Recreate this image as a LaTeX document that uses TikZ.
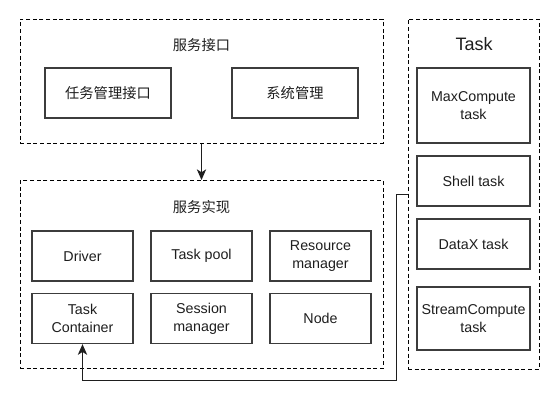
\documentclass[tikz,border=0pt]{standalone}
\usepackage{fontspec}
\setmainfont{Liberation Sans}
\newfontfamily\cjk{Noto Sans CJK SC}
\usetikzlibrary{arrows.meta}
\definecolor{ArchInk}{RGB}{30,30,30}
\definecolor{ArchBox}{RGB}{60,60,60}
\tikzset{
  arch/group/.style={
    draw=black,
    line width=0.75pt,
    dash pattern=on 3pt off 2pt,
    inner sep=0pt
  },
  arch/box/.style={
    draw=ArchBox,
    line width=1pt,
    fill=white,
    align=center,
    text=ArchInk,
    inner sep=0pt,
    minimum width=75.75pt,
    minimum height=37.5pt,
    font=\fontsize{10.7}{13.4}\selectfont
  },
  arch/title/.style={text=ArchInk, font=\cjk\fontsize{10.7}{13.4}\selectfont},
  arch/bigtitle/.style={text=ArchInk, font=\fontsize{13.5}{16}\selectfont},
  arch/arrow/.style={-{Stealth[length=8pt,width=7pt,inset=2.2pt]}, line width=0.75pt, draw=ArchInk}
}

\begin{document}
\begin{tikzpicture}[x=0.75pt,y=-0.75pt]
  \useasboundingbox (0,0) rectangle (559,411);

  % service interface
  \node[arch/group,minimum width=272.25pt,minimum height=93pt] (iface) at (201.5,81) {};
  \node[arch/title] (ifacetitle) at (201.5,45) {服务接口};
  \node[arch/box,font=\cjk\fontsize{10.7}{13.4}\selectfont,minimum width=94.5pt] (taskapi) at (108,93) {任务管理接口};
  \node[arch/box,font=\cjk\fontsize{10.7}{13.4}\selectfont,minimum width=94.5pt] (sysmgr) at (295,93) {系统管理};

  % service implementation
  \node[arch/group,minimum width=272.25pt,minimum height=141pt] (impl) at (201.5,274.5) {};
  \node[arch/title] (impltitle) at (201.5,207) {服务实现};
  \foreach \name/\x/\y/\txt in {driver/82.5/256/Driver, pool/201.5/256/Task pool,
      resmgr/320.5/256/Resource\\manager, tc/82.5/318.5/Task\\Container,
      session/201.5/318.5/Session\\manager, nodebox/320.5/318.5/Node}{
    \node[arch/box] (\name) at (\x,\y) {\txt};
  }

  % task types
  \node[arch/group,minimum width=98.25pt,minimum height=262.5pt] (tasks) at (473.5,194) {};
  \node[arch/bigtitle] (taskstitle) at (474,44) {Task};
  \node[arch/box,minimum width=84.75pt,minimum height=56.25pt] (maxc) at (473.5,105.5) {MaxCompute\\task};
  \node[arch/box,minimum width=84.75pt] (shell) at (473.5,181) {Shell task};
  \node[arch/box,minimum width=84.75pt] (datax) at (473.5,244) {DataX task};
  \node[arch/box,minimum width=84.75pt,minimum height=47.25pt] (stream) at (473.5,318.5) {StreamCompute\\task};

  \draw[arch/arrow] (iface.south) -- (impl.north);
  \coordinate (back) at (396,380);
  \draw[arch/arrow] (tasks.west) -| (back) -| (tc.south);
\end{tikzpicture}
\end{document}
